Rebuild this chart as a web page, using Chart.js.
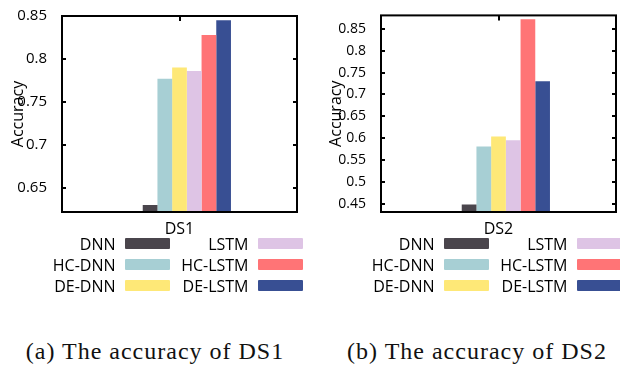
<!DOCTYPE html>
<html>
<head>
<meta charset="utf-8">
<script src="https://cdn.jsdelivr.net/npm/chart.js@4.4.1/dist/chart.umd.min.js"></script>
<style>
  body { margin: 0; width: 620px; height: 366px; overflow: hidden; position: relative; background: #fff; }
  .box { position: absolute; top: 0; width: 310px; height: 236px; }
  .leg { position: absolute; font: 16px 'Open Sans', sans-serif; color: #000; line-height: 20px; white-space: nowrap; }
  .sw { position: absolute; width: 45px; height: 11px; border-radius: 1px; }
  .cap { position: absolute; top: 337px; width: 300px; text-align: center; font: 24px 'Liberation Serif', serif; letter-spacing: 1px; line-height: 28px; color: #111; }
</style>
</head>
<body>
<div class="box" style="left:0"><canvas id="ds1"></canvas></div>
<div class="box" style="left:310px"><canvas id="ds2"></canvas></div>
<div id="legends"></div>
<div class="cap" style="left:5px">(a) The accuracy of DS1</div>
<div class="cap" style="left:327px">(b) The accuracy of DS2</div>
<script>
// data
const seriesNames = ['DNN', 'HC-DNN', 'DE-DNN', 'LSTM', 'HC-LSTM', 'DE-LSTM'];
const seriesColors = ['#4a454c', '#a7cfd4', '#fee877', '#dec4e5', '#ff7476', '#384f93'];
const ds1Values = [0.630, 0.777, 0.790, 0.786, 0.828, 0.845];
const ds2Values = [0.448, 0.581, 0.604, 0.595, 0.872, 0.730];
const ds1Ticks = [0.65, 0.7, 0.75, 0.8, 0.85];
const ds2Ticks = [0.45, 0.5, 0.55, 0.6, 0.65, 0.7, 0.75, 0.8, 0.85];

Chart.defaults.font.family = "'Open Sans', sans-serif";
Chart.defaults.font.size = 16;
Chart.defaults.color = '#000';

// gnuplot-like frame with inward ticks
const framePlugin = {
  id: 'frame',
  afterDraw(chart) {
    const {ctx, chartArea: a, scales: {x, y}} = chart;
    ctx.save();
    ctx.strokeStyle = '#000';
    ctx.lineWidth = 2;
    ctx.beginPath();
    y.ticks.forEach(t => {
      const py = Math.round(y.getPixelForValue(t.value));
      ctx.moveTo(a.left, py); ctx.lineTo(a.left + 4, py);
      ctx.moveTo(a.right - 4, py); ctx.lineTo(a.right, py);
    });
    const px = Math.round(x.getPixelForValue(0));
    ctx.moveTo(px, a.top); ctx.lineTo(px, a.top + 5);
    ctx.stroke();
    ctx.strokeRect(a.left, a.top, a.right - a.left, a.bottom - a.top);
    ctx.restore();
  }
};

function makeChart(id, label, values, ticks, yMin, yMax, axisWidth, padRight, titlePad, tickSize) {
  const datasets = [{ label: '', data: [null], backgroundColor: 'rgba(0,0,0,0)' }];
  seriesNames.forEach((name, i) => {
    datasets.push({ label: name, data: [values[i]], backgroundColor: seriesColors[i], borderWidth: 0 });
  });
  return new Chart(document.getElementById(id), {
    type: 'bar',
    data: { labels: [label], datasets: datasets },
    options: {
      responsive: true,
      maintainAspectRatio: false,
      animation: false,
      devicePixelRatio: 1,
      layout: { padding: { top: 10, right: padRight, left: 0, bottom: 0 } },
      datasets: { bar: { barPercentage: 1, categoryPercentage: 0.438 } },
      plugins: { legend: { display: false }, tooltip: { enabled: false } },
      scales: {
        x: {
          grid: { display: false },
          border: { display: false },
          ticks: { padding: 0 },
          afterFit: s => { s.height = 24; }
        },
        y: {
          min: yMin,
          max: yMax,
          grid: { display: false },
          border: { display: false },
          ticks: { padding: 7, font: { size: tickSize }, callback: v => String(v) },
          afterBuildTicks: s => { s.ticks = ticks.map(v => ({ value: v })); },
          title: { display: true, text: 'Accuracy', padding: { top: titlePad, bottom: 0 } },
          afterFit: s => { s.width = axisWidth; }
        }
      }
    },
    plugins: [framePlugin]
  });
}

makeChart('ds1', 'DS1', ds1Values, ds1Ticks, 0.622, 0.85, 62, 13, 9, 15);
makeChart('ds2', 'DS2', ds2Values, ds2Ticks, 0.431, 0.881, 71, 4, 17, 14);

// legends (2 columns x 3 rows, text left of swatch)
const legends = document.getElementById('legends');
[0, 319].forEach(off => {
  seriesNames.forEach((name, i) => {
    const col = Math.floor(i / 3), row = i % 3;
    const swLeft = off + (col === 0 ? 125 : 258);
    const swTop = 238 + row * 21;
    const txt = document.createElement('div');
    txt.className = 'leg';
    txt.textContent = name;
    txt.style.right = (620 - (swLeft - 9.5)) + 'px';
    txt.style.top = (swTop - 4.5) + 'px';
    legends.appendChild(txt);
    const sw = document.createElement('div');
    sw.className = 'sw';
    sw.style.left = swLeft + 'px';
    sw.style.top = swTop + 'px';
    sw.style.background = seriesColors[i];
    legends.appendChild(sw);
  });
});
</script>
</body>
</html>
